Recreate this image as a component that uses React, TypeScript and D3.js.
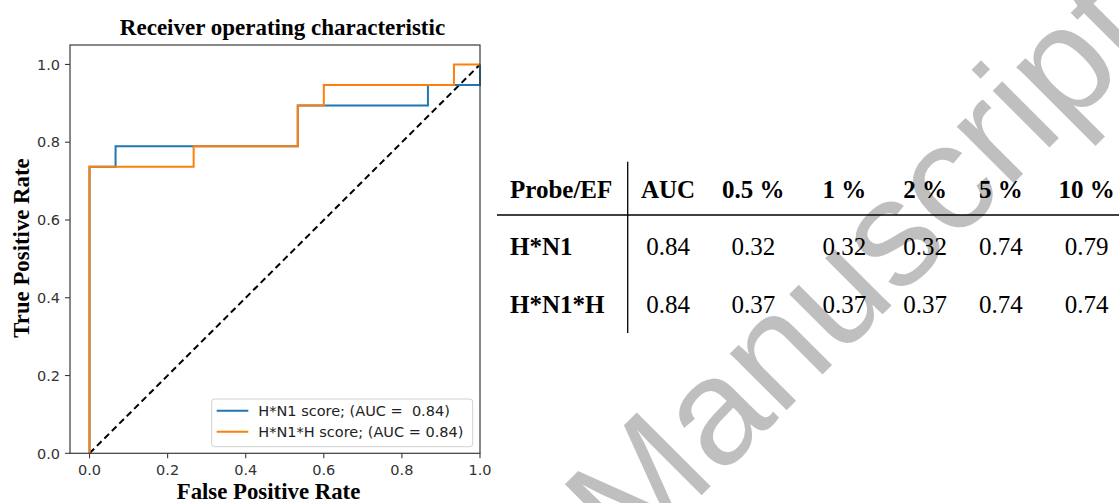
import React from "react"
import * as d3 from "d3"

// ROC points (15 negatives, 19 positives)
const n1Fpr = [0, 0, 1 / 15, 1 / 15, 8 / 15, 8 / 15, 13 / 15, 13 / 15, 1, 1]
const n1Tpr = [0, 14 / 19, 14 / 19, 15 / 19, 15 / 19, 17 / 19, 17 / 19, 18 / 19, 18 / 19, 1]
const n1hFpr = [0, 0, 4 / 15, 4 / 15, 8 / 15, 8 / 15, 9 / 15, 9 / 15, 14 / 15, 14 / 15, 1]
const n1hTpr = [0, 14 / 19, 14 / 19, 15 / 19, 15 / 19, 17 / 19, 17 / 19, 18 / 19, 18 / 19, 1, 1]

const seriesNames = ["H*N1 score; (AUC =  0.84)", "H*N1*H score; (AUC = 0.84)"]
const seriesColors = ["#1f77b4", "#ff7f0e"]

const xTicks = [0, 0.2, 0.4, 0.6, 0.8, 1.0]
const yTicks = [0, 0.2, 0.4, 0.6, 0.8, 1.0]

// enrichment table
const tableHeader = ["Probe/EF", "AUC", "0.5 %", "1 %", "2 %", "5 %", "10 %"]
const rowLabels = ["H*N1", "H*N1*H"]
const rowN1 = ["0.84", "0.32", "0.32", "0.32", "0.74", "0.79"]
const rowN1H = ["0.84", "0.37", "0.37", "0.37", "0.74", "0.74"]

const W = 1119, H = 503
const margin = {left: 70, top: 45, right: 480, bottom: 453.3}

const App = () => {
    let x = d3.scaleLinear().domain([-0.05, 1.0]).range([margin.left, margin.right])
    let y = d3.scaleLinear().domain([0, 1.05]).range([margin.bottom, margin.top])

    let line = d3.line<[number, number]>()
        .x(d => x(d[0]))
        .y(d => y(d[1]))

    let series = [
        d3.zip(n1Fpr, n1Tpr) as [number, number][],
        d3.zip(n1hFpr, n1hTpr) as [number, number][]
    ]

    const tickFont = "'DejaVu Sans', sans-serif"
    const serif = "'Liberation Serif', 'Times New Roman', serif"

    // table column centres, measured
    const colCenters = [668, 753.3, 844.3, 925, 1000.8, 1086.5]
    let rows = [rowN1, rowN1H]
    const rowBase = [255, 313]

    return (
        <svg width={W} height={H} style={{position: "absolute", left: 0, top: 0, background: "#fff"}}>
            <text x={282.5} y={34.5} textAnchor="middle" fontFamily={serif} fontWeight="bold" fontSize={23}>
                Receiver operating characteristic
            </text>

            {/* data */}
            <path d={line([[0, 0], [1, 1]]) || ""} stroke="#000" strokeWidth={2} strokeDasharray="6.5,4" fill="none" />
            {series.map((s, i) => (
                <path key={i} d={line(s) || ""} stroke={seriesColors[i]} strokeWidth={2} fill="none" />
            ))}

            {/* frame */}
            <rect x={margin.left} y={margin.top} width={margin.right - margin.left} height={margin.bottom - margin.top}
                fill="none" stroke="#3a3a3a" strokeWidth={1.2} />

            {xTicks.map(t => (
                <g key={"x" + t}>
                    <line x1={x(t)} x2={x(t)} y1={margin.bottom} y2={margin.bottom + 5} stroke="#3a3a3a" strokeWidth={1.1} />
                    <text x={x(t)} y={475} textAnchor="middle" fontFamily={tickFont} fontSize={14.5} fill="#333">
                        {t.toFixed(1)}
                    </text>
                </g>
            ))}
            {yTicks.map(t => (
                <g key={"y" + t}>
                    <line x1={margin.left - 5} x2={margin.left} y1={y(t)} y2={y(t)} stroke="#3a3a3a" strokeWidth={1.1} />
                    <text x={60} y={y(t)} dy="0.36em" textAnchor="end" fontFamily={tickFont} fontSize={14.5} fill="#333">
                        {t.toFixed(1)}
                    </text>
                </g>
            ))}

            <text x={268.5} y={499} textAnchor="middle" fontFamily={serif} fontWeight="bold" fontSize={22.8}>
                False Positive Rate
            </text>
            <text transform="translate(29,248) rotate(-90)" textAnchor="middle" fontFamily={serif} fontWeight="bold" fontSize={22.8}>
                True Positive Rate
            </text>

            {/* legend */}
            <rect x={211.7} y={399} width={261} height={47.7} rx={3} fill="#fff" fillOpacity={0.8} stroke="#d0d0d0" strokeWidth={1} />
            {seriesNames.map((n, i) => (
                <g key={n}>
                    <line x1={216.7} x2={248.3} y1={410.7 + i * 21} y2={410.7 + i * 21} stroke={seriesColors[i]} strokeWidth={2} />
                    <text x={258.3} y={410.7 + i * 21} dy="0.36em" fontFamily={tickFont} fontSize={14.5} fill="#222"
                        style={{whiteSpace: "pre"}}>{n}</text>
                </g>
            ))}

            {/* table */}
            <line x1={627.7} x2={627.7} y1={161.7} y2={333} stroke="#000" strokeWidth={1.3} />
            <line x1={497} x2={W} y1={215} y2={215} stroke="#000" strokeWidth={1.5} />
            <text x={510} y={198} fontFamily={serif} fontWeight="bold" fontSize={25}>{tableHeader[0]}</text>
            {tableHeader.slice(1).map((h, i) => (
                <text key={h} x={colCenters[i]} y={198} textAnchor="middle" fontFamily={serif} fontWeight="bold" fontSize={25}>{h}</text>
            ))}
            {rows.map((r, j) => (
                <g key={j}>
                    <text x={510} y={rowBase[j]} fontFamily={serif} fontWeight="bold" fontSize={25}>{rowLabels[j]}</text>
                    {r.map((v, i) => (
                        <text key={i} x={colCenters[i]} y={rowBase[j]} textAnchor="middle" fontFamily={serif} fontSize={25}>{v}</text>
                    ))}
                </g>
            ))}

            {/* watermark */}
            <text transform="translate(630,567) rotate(-45)" fontFamily="'Liberation Sans', Arial, sans-serif" fontSize={152}
                fill="#000" fillOpacity={0.25}>
                Manuscript
            </text>
        </svg>
    )
}

export default App
